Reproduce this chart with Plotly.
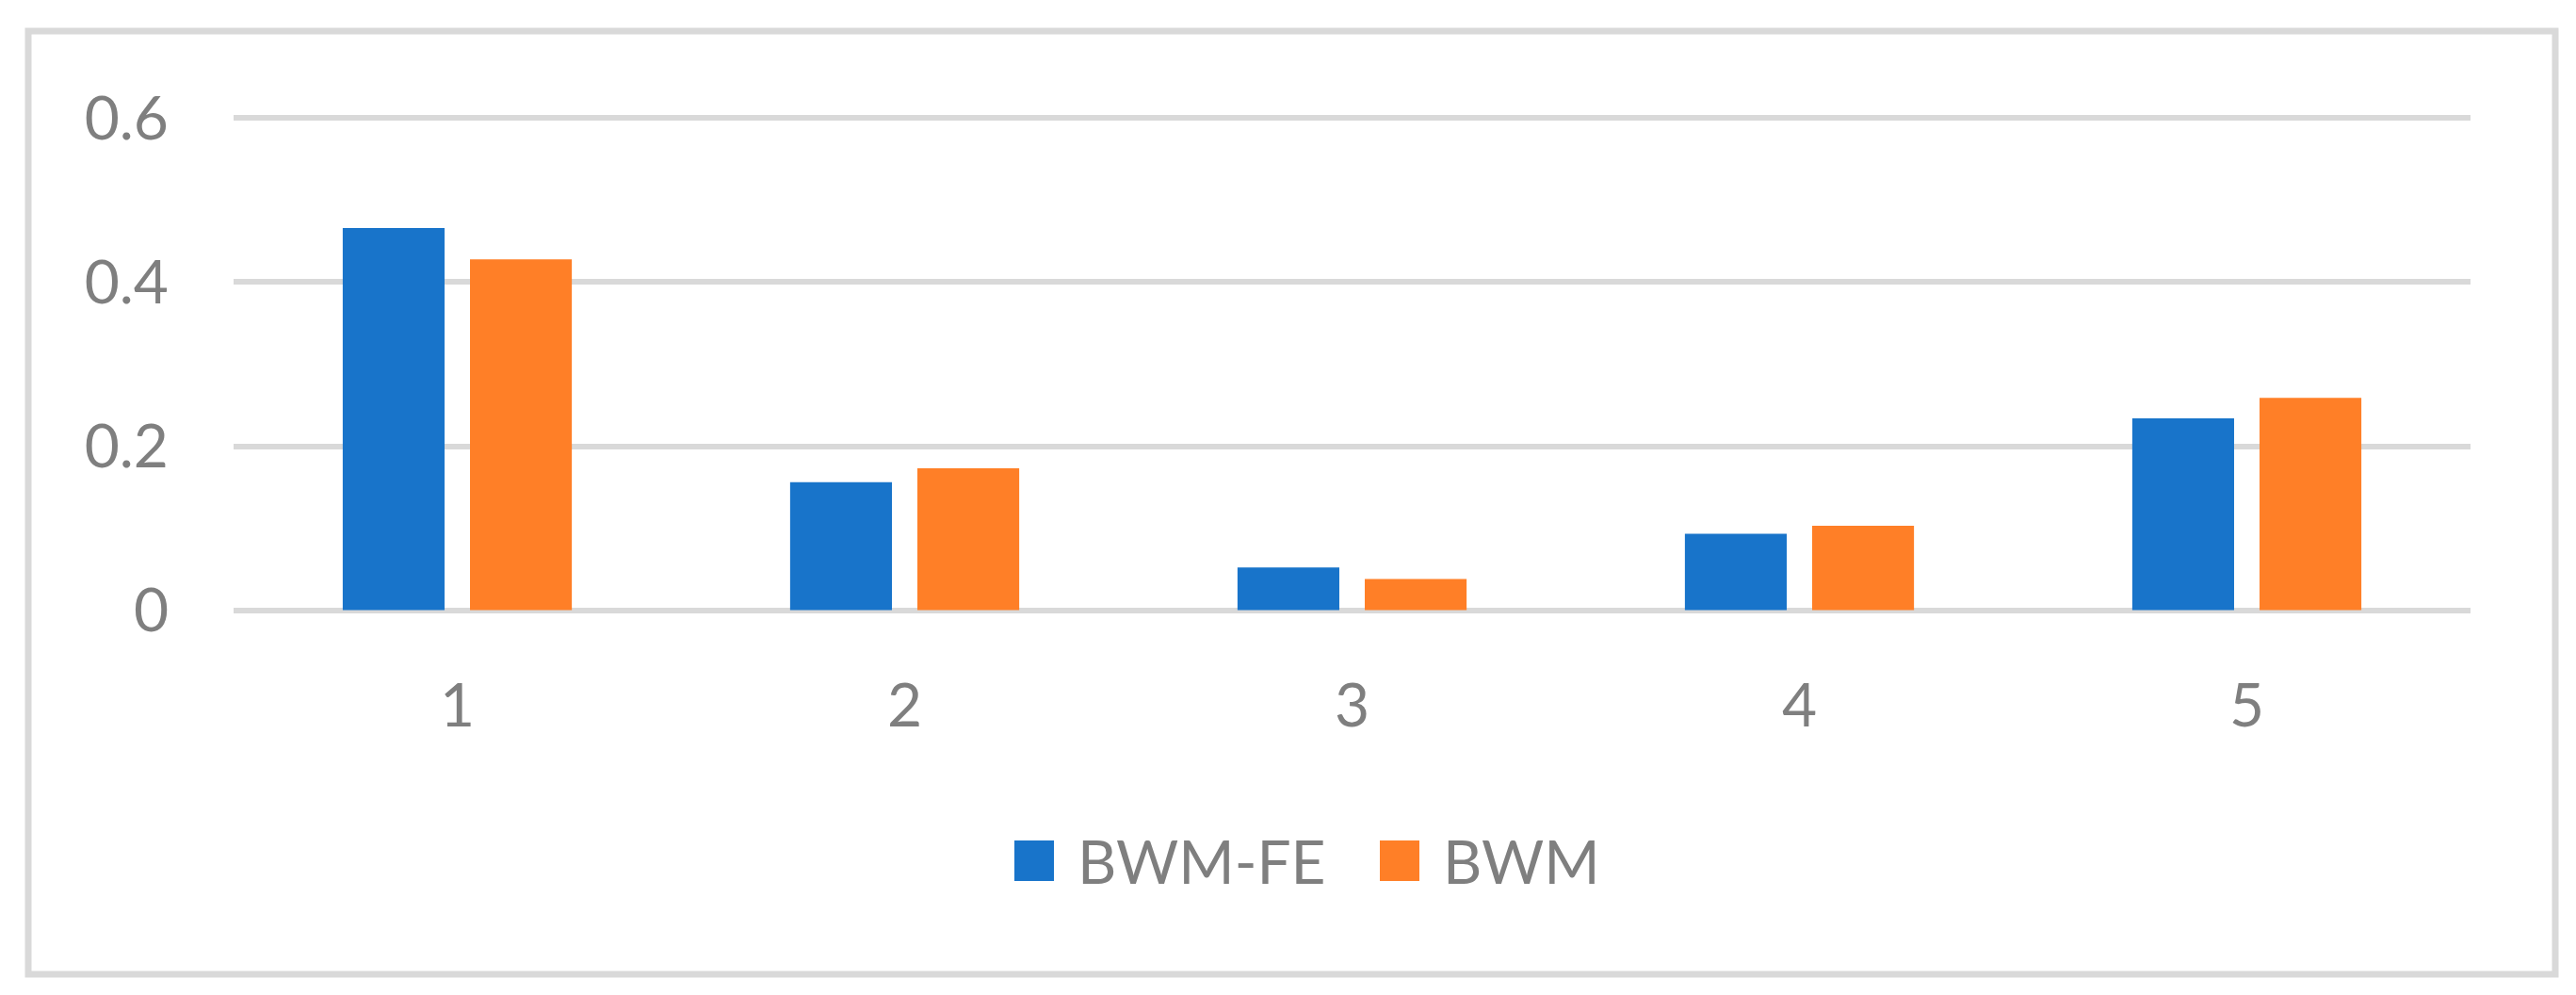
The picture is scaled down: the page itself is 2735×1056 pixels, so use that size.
import plotly.graph_objects as go

categories = ["1", "2", "3", "4", "5"]
series_names = ["BWM-FE", "BWM"]
bwm_fe = [0.466, 0.156, 0.052, 0.093, 0.234]
bwm = [0.428, 0.173, 0.038, 0.103, 0.259]
y_ticks = [0, 0.2, 0.4, 0.6]
y_tick_labels = ["0", "0.2", "0.4", "0.6"]

colors = ["#1874CA", "#FF7F27"]
grid_col = "#D9D9D9"
text_col = "#7F7F7F"
FONT = "Lato"
FS = 64
LEG_FS = 64

# page body adds an 8px offset; design in page pixels and subtract it
OFF = 8
plot_left, plot_right, plot_top, plot_bottom = 248, 2623, 122, 651
W, H = 2735 - OFF, 1056 - OFF
L, T = plot_left - OFF, plot_top - OFF
R = W - (plot_right - OFF)
B = H - (plot_bottom - OFF)
pw, ph = plot_right - plot_left, plot_bottom - plot_top


def px_x(px):
    return (px - plot_left) / pw


def px_y(py):
    return (plot_bottom - py) / ph


fig = go.Figure()
for name, vals, col in zip(series_names, [bwm_fe, bwm], colors):
    fig.add_trace(go.Bar(x=categories, y=vals, name=name, marker=dict(color=col, line=dict(width=0)),
                         showlegend=False))

fig.update_layout(
    width=W, height=H,
    margin=dict(l=L, r=R, t=T, b=B, pad=0),
    paper_bgcolor="white", plot_bgcolor="white",
    barmode="group", bargap=0.431, bargroupgap=0.2,
    font=dict(family=FONT, size=FS, color=text_col),
    xaxis=dict(showgrid=False, zeroline=False, showline=False, ticks="",
               tickfont=dict(family=FONT, size=FS, color=text_col), ticklabelstandoff=55),
    yaxis=dict(range=[-0.004, 0.604], tickvals=y_ticks, ticktext=y_tick_labels,
               showgrid=True, gridcolor=grid_col, gridwidth=6, zeroline=False, showline=False,
               ticks="", tickfont=dict(family=FONT, size=FS, color=text_col), ticklabelstandoff=68),
)

shapes = []
# outer chart border
shapes.append(dict(type="rect", xref="paper", yref="paper",
                   x0=px_x(30), x1=px_x(2713), y0=px_y(1034), y1=px_y(33),
                   line=dict(color=grid_col, width=7), fillcolor="rgba(0,0,0,0)", layer="below"))

# custom legend
legend_items = [(1077, 1142), (1465, 1530)]
for (sx, tx), name, col in zip(legend_items, series_names, colors):
    shapes.append(dict(type="rect", xref="paper", yref="paper",
                       x0=px_x(sx), x1=px_x(sx + 42), y0=px_y(935), y1=px_y(892),
                       line=dict(width=0), fillcolor=col))
    fig.add_annotation(xref="paper", yref="paper", x=px_x(tx), y=px_y(913),
                       text=name, showarrow=False, xanchor="left", yanchor="middle",
                       font=dict(family=FONT, size=LEG_FS, color=text_col))
fig.update_layout(shapes=shapes)

fig.write_html("out.html")
